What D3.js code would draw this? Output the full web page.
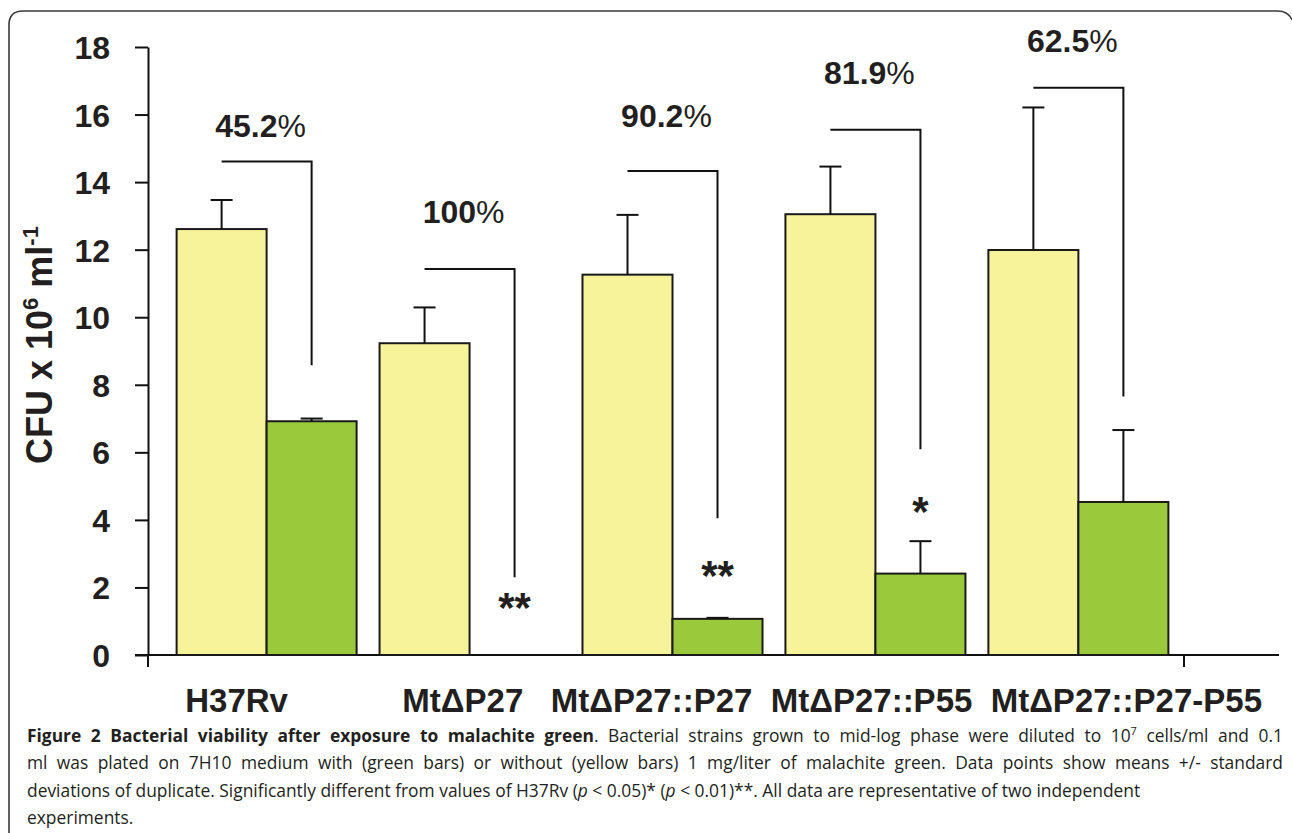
<!DOCTYPE html>
<html><head><meta charset="utf-8">
<script src="https://cdn.jsdelivr.net/npm/d3@7/dist/d3.min.js"></script>
<style>body{margin:0;background:#fff;} svg{display:block}</style>
</head><body><svg id="c" width="1292" height="833"></svg>
<script>
// ---------- data ----------
const categories = ["H37Rv", "MtΔP27", "MtΔP27::P27", "MtΔP27::P55", "MtΔP27::P27-P55"];
const series = ["without", "with"];
const withoutMean = [12.61, 9.23, 11.26, 13.05, 11.99];
const withoutSD   = [0.86, 1.06, 1.77, 1.41, 4.22];
const withMean    = [6.92, 0, 1.07, 2.41, 4.53];
const withSD      = [0.08, 0, 0.03, 0.96, 2.13];
const percentLabels = ["45.2", "100", "90.2", "81.9", "62.5"];
const bracketTop    = [14.61, 11.43, 14.33, 15.55, 16.79];
const bracketBottom = [8.58, 2.30, 4.05, 6.09, 7.65];
const labelLevel    = [15.33, 12.78, 15.63, 16.90, 17.84];
const significance  = ["", "**", "**", "*", ""];
const sigLevel      = [0, 0.98, 1.92, 3.82, 0];
const yTicks = [0, 2, 4, 6, 8, 10, 12, 14, 16, 18];

const captionLines = [
  [{t:"Figure 2 Bacterial viability after exposure to malachite green", b:true},
   {t:". Bacterial strains grown to mid-log phase were diluted to 10"},
   {t:"7", sup:true},
   {t:" cells/ml and 0.1", after:true}],
  [{t:"ml was plated on 7H10 medium with (green bars) or without (yellow bars) 1 mg/liter of malachite green. Data points show means +/- standard"}],
  [{t:"deviations of duplicate. Significantly different from values of H37Rv ("},{t:"p", i:true},
   {t:" < 0.05)* ("},{t:"p", i:true},{t:" < 0.01)**. All data are representative of two independent"}],
  [{t:"experiments."}]
];
const justifyLine = [true, true, false, false];

// ---------- layout ----------
const FONT = "'Liberation Sans', Arial, Helvetica, sans-serif";
const INK = "#231f20";
const YELLOW = "#f7f39b";
const GREEN = "#9bc93c";

const svg = d3.select("#c");

// frame
svg.append("path")
  .attr("d", "M9,833 V25 Q9,11 23,11 H1278 Q1288,11 1292,20")
  .attr("fill", "none").attr("stroke", "#3a3a3a").attr("stroke-width", 1.6);

const y = d3.scaleLinear().domain([0, 18]).range([655, 47]);
const x0 = d3.scaleBand().domain(categories).range([148, 1197])
  .paddingInner(0.113).paddingOuter(0.141);
const x1 = d3.scaleBand().domain(series).range([0, x0.bandwidth()]);

const rows = categories.map((c, i) => ({
  cat: c,
  vals: [
    {s: "without", m: withoutMean[i], sd: withoutSD[i], fill: YELLOW},
    {s: "with", m: withMean[i], sd: withSD[i], fill: GREEN}
  ],
  pct: percentLabels[i], bt: bracketTop[i], bb: bracketBottom[i],
  ll: labelLevel[i], sig: significance[i], sl: sigLevel[i]
}));

// y axis
const yAxis = d3.axisLeft(y).tickValues(yTicks).tickSize(13).tickSizeOuter(0).tickPadding(25);
const gy = svg.append("g").attr("transform", "translate(148,0)").call(yAxis);
gy.select(".domain").attr("stroke", "#111").attr("stroke-width", 2);
gy.selectAll(".tick line").attr("stroke", "#111").attr("stroke-width", 2);
gy.selectAll(".tick text").attr("font-family", FONT).attr("font-weight", "bold")
  .attr("font-size", 32).attr("fill", INK).attr("dy", "0.36em");

// y axis extension below zero
svg.append("line").attr("x1", 148).attr("x2", 148).attr("y1", y(0)).attr("y2", y(0) + 12)
  .attr("stroke", "#111").attr("stroke-width", 2);

// x axis line and its end tick
svg.append("line").attr("x1", 135).attr("x2", 1279).attr("y1", y(0)).attr("y2", y(0))
  .attr("stroke", "#111").attr("stroke-width", 2);
svg.append("line").attr("x1", 1184).attr("x2", 1184).attr("y1", y(0)).attr("y2", y(0) + 12)
  .attr("stroke", "#111").attr("stroke-width", 2);

// bars
const groups = svg.append("g").selectAll("g").data(rows).join("g")
  .attr("transform", d => `translate(${x0(d.cat)},0)`);

groups.selectAll("rect").data(d => d.vals.filter(v => v.m > 0)).join("rect")
  .attr("x", v => x1(v.s)).attr("width", x1.bandwidth())
  .attr("y", v => y(v.m)).attr("height", v => y(0) - y(v.m))
  .attr("fill", v => v.fill).attr("stroke", "#1a1a1a").attr("stroke-width", 2);

// error bars
const eb = groups.selectAll("g.err").data(d => d.vals.filter(v => v.sd > 0)).join("g").attr("class", "err");
eb.append("line")
  .attr("x1", v => x1(v.s) + x1.bandwidth() / 2).attr("x2", v => x1(v.s) + x1.bandwidth() / 2)
  .attr("y1", v => y(v.m)).attr("y2", v => y(v.m + v.sd))
  .attr("stroke", "#111").attr("stroke-width", 2);
eb.append("line")
  .attr("x1", v => x1(v.s) + x1.bandwidth() / 2 - 11).attr("x2", v => x1(v.s) + x1.bandwidth() / 2 + 11)
  .attr("y1", v => y(v.m + v.sd)).attr("y2", v => y(v.m + v.sd))
  .attr("stroke", "#111").attr("stroke-width", 2);

// brackets
groups.append("path")
  .attr("d", d => {
    const xa = x1("without") + x1.bandwidth() / 2;
    const xb = x1("with") + x1.bandwidth() / 2;
    return `M${xa},${y(d.bt)} H${xb} V${y(d.bb)}`;
  })
  .attr("fill", "none").attr("stroke", "#111").attr("stroke-width", 2);

// percent labels
const pl = groups.append("text")
  .attr("x", x0.bandwidth() / 2 - 6).attr("y", d => y(d.ll))
  .attr("text-anchor", "middle").attr("font-family", FONT).attr("font-size", 32).attr("fill", INK);
pl.append("tspan").attr("font-weight", "bold").text(d => d.pct);
pl.append("tspan").attr("font-weight", "normal").text("%");

// significance stars
groups.filter(d => d.sig).append("text")
  .attr("x", x1("with") + x1.bandwidth() / 2).attr("y", d => y(d.sl))
  .attr("text-anchor", "middle").attr("font-family", FONT).attr("font-weight", "bold")
  .attr("font-size", 42).attr("fill", INK).text(d => d.sig);

// x category labels
const xlab = svg.append("g").attr("font-family", FONT).attr("font-weight", "bold")
  .attr("font-size", 33).attr("fill", INK);
xlab.append("text").attr("x", x0(categories[0]) + x0.bandwidth() / 2 - 30).attr("y", 712)
  .attr("text-anchor", "middle").text(categories[0]);
const flow = xlab.append("text").attr("x", 1262).attr("y", 712).attr("text-anchor", "end")
  .attr("xml:space", "preserve").style("white-space", "pre");
flow.text(categories[1] + "   " + categories.slice(2).join("  "));

// y axis title
const yt = svg.append("text").attr("transform", "translate(52,345) rotate(-90)")
  .attr("text-anchor", "middle").attr("font-family", FONT).attr("font-weight", "bold")
  .attr("font-size", 36).attr("fill", INK);
yt.append("tspan").text("CFU x 10");
yt.append("tspan").attr("font-size", 22).attr("dy", -14).text("6");
yt.append("tspan").attr("dy", 14).text(" ml");
yt.append("tspan").attr("font-size", 22).attr("dy", -14).text("-1");

// caption
const CAP_LEFT = 27, CAP_RIGHT = 1283;
const cap = svg.append("g").attr("font-family", "'Open Sans', 'Noto Sans', sans-serif")
  .attr("font-size", 17.4).attr("fill", "#231f20");
captionLines.forEach((line, li) => {
  const t = cap.append("text").attr("x", CAP_LEFT).attr("y", 742 + li * 27.4)
    .attr("xml:space", "preserve").style("white-space", "pre");
  line.forEach(seg => {
    const s = t.append("tspan").text(seg.t);
    if (seg.b) s.attr("font-weight", "bold");
    if (seg.i) s.attr("font-style", "italic");
    if (seg.sup) s.attr("font-size", 11).attr("dy", -7);
    if (seg.after) s.attr("dy", 7);
  });
  if (justifyLine[li]) {
    const natural = t.node().getComputedTextLength();
    const spaces = line.map(s => s.t).join("").split(" ").length - 1;
    const ws = (CAP_RIGHT - CAP_LEFT - natural) / spaces;
    t.style("word-spacing", ws + "px");
  }
});
</script>
</body></html>
